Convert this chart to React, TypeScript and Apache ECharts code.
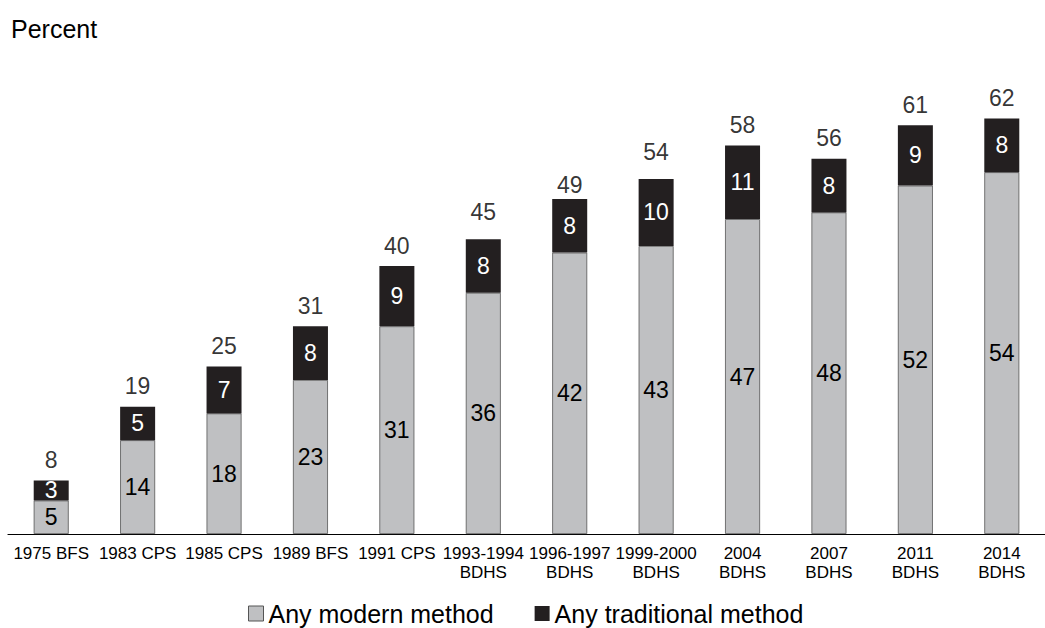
import React, { useEffect, useRef } from "react";
import * as echarts from "echarts";

const categories = [
  "1975 BFS", "1983 CPS", "1985 CPS", "1989 BFS", "1991 CPS",
  "1993-1994\nBDHS", "1996-1997\nBDHS", "1999-2000\nBDHS",
  "2004\nBDHS", "2007\nBDHS", "2011\nBDHS", "2014\nBDHS",
];
const modern = [5, 14, 18, 23, 31, 36, 42, 43, 47, 48, 52, 54];
const traditional = [3, 5, 7, 8, 9, 8, 8, 10, 11, 8, 9, 8];
const totals = [8, 19, 25, 31, 40, 45, 49, 54, 58, 56, 61, 62];

const FONT = "'Liberation Sans', Arial, sans-serif";

export default function App() {
  const ref = useRef<HTMLDivElement>(null);
  useEffect(() => {
    if (!ref.current) return;
    const chart = echarts.init(ref.current, undefined, { renderer: "svg" });
    chart.setOption({
      animation: false,
      textStyle: { fontFamily: FONT },
      title: {
        text: "Percent",
        left: 11,
        top: 16,
        padding: 0,
        textStyle: { fontFamily: FONT, fontSize: 25, lineHeight: 25, fontWeight: "normal", color: "#000" },
      },
      legend: {
        top: 601,
        left: 248,
        padding: 0,
        itemWidth: 15,
        itemHeight: 15,
        itemGap: 41,
        icon: "rect",
        textStyle: { fontFamily: FONT, fontSize: 25, lineHeight: 25, color: "#000" },
        data: [
          { name: "Any modern method", itemStyle: { color: "#bfc0c2", borderColor: "#555", borderWidth: 1 } },
          { name: "Any traditional method", itemStyle: { color: "#231f20" } },
        ],
      },
      grid: { left: 8, width: 1050, top: 65, height: 469 },
      xAxis: {
        type: "category",
        data: categories,
        axisLine: { lineStyle: { color: "#000", width: 1.2 } },
        axisTick: { show: false },
        axisLabel: {
          color: "#000",
          fontSize: 17,
          lineHeight: 19,
          margin: 10,
          fontFamily: FONT,
          interval: 0,
        },
      },
      yAxis: {
        type: "value",
        min: 0,
        max: 70,
        show: false,
        splitLine: { show: false },
      },
      series: [
        {
          name: "Any modern method",
          type: "bar",
          stack: "total",
          data: modern,
          barWidth: 35,
          itemStyle: { color: "#bfc0c2", borderColor: "#555", borderWidth: 0.8 },
          label: {
            show: true,
            position: "inside",
            color: "#000",
            fontSize: 23,
            fontFamily: FONT,
          },
        },
        {
          name: "Any traditional method",
          type: "bar",
          stack: "total",
          data: traditional,
          barWidth: 35,
          itemStyle: { color: "#231f20" },
          label: {
            show: true,
            position: "inside",
            color: "#fff",
            fontSize: 23,
            fontFamily: FONT,
          },
        },
        {
          name: "Total",
          type: "scatter",
          data: totals,
          symbolSize: 0,
          silent: true,
          label: {
            show: true,
            position: "top",
            distance: 9,
            color: "#000",
            fontSize: 23,
            fontFamily: FONT,
          },
        },
      ],
    });
    return () => chart.dispose();
  }, []);
  return (
    <div
      ref={ref}
      style={{ position: "absolute", left: 0, top: 0, width: 1045, height: 628, overflow: "hidden" }}
    />
  );
}
